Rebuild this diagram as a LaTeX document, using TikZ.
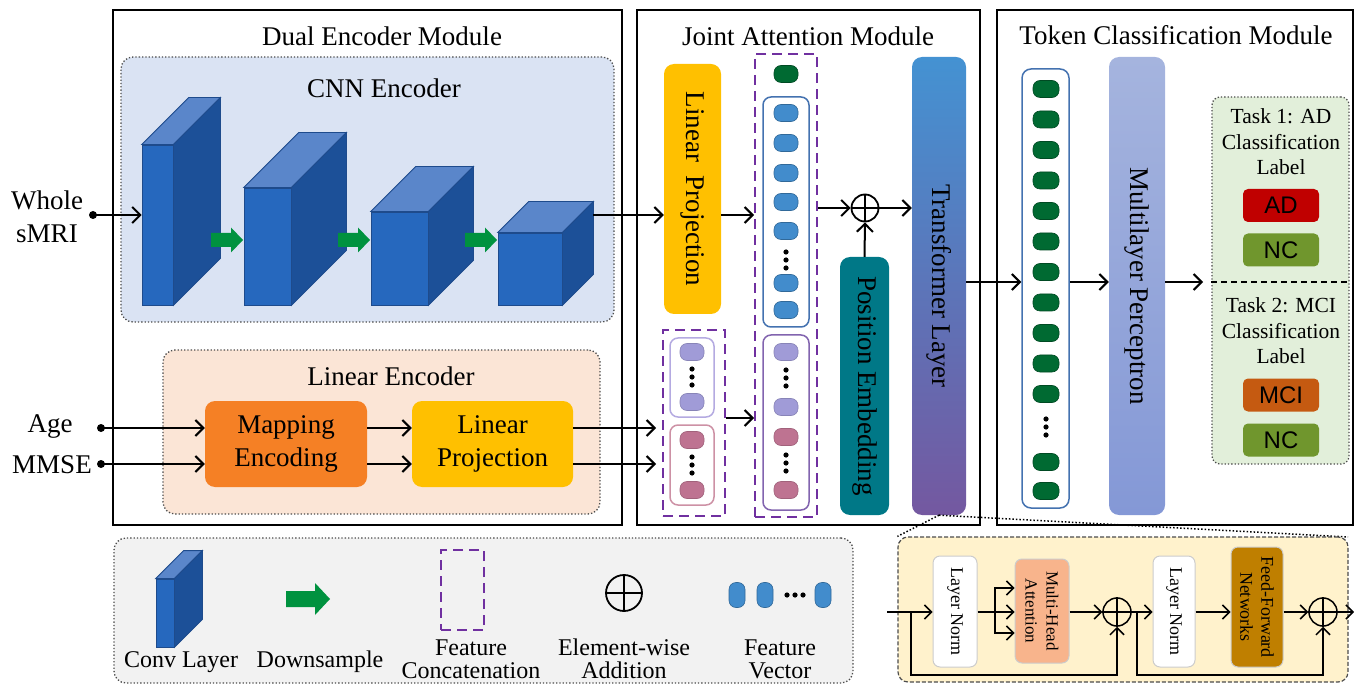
\documentclass[tikz,border=0pt]{standalone}
\usepackage{fontspec}
\setmainfont{Liberation Serif}
\newfontfamily\labelfont{Liberation Sans}
\usepackage{tikz}
\usetikzlibrary{arrows.meta,positioning,fit}

\definecolor{cubefront}{RGB}{38,104,190}
\definecolor{cubetop}{RGB}{90,134,202}
\definecolor{cubeside}{RGB}{28,80,152}
\definecolor{cubeedge}{RGB}{30,75,140}
\definecolor{dsgreen}{RGB}{0,146,63}
\definecolor{cnnbg}{RGB}{218,227,243}
\definecolor{linbg}{RGB}{251,229,214}
\definecolor{mapcol}{RGB}{245,128,37}
\definecolor{projcol}{RGB}{255,192,0}
\definecolor{catpurple}{RGB}{112,48,160}
\definecolor{tokblue}{RGB}{66,140,204}
\definecolor{tokgreen}{RGB}{0,106,50}
\definecolor{toklav}{RGB}{160,155,215}
\definecolor{tokpink}{RGB}{190,115,145}
\definecolor{grpblue}{RGB}{68,114,176}
\definecolor{grplav}{RGB}{180,170,225}
\definecolor{grppink}{RGB}{205,145,165}
\definecolor{grppurple}{RGB}{130,100,175}
\definecolor{poscol}{RGB}{0,120,135}
\definecolor{trtop}{RGB}{68,146,210}
\definecolor{trbot}{RGB}{116,88,160}
\definecolor{mlptop}{RGB}{165,180,222}
\definecolor{mlpbot}{RGB}{132,152,214}
\definecolor{taskbg}{RGB}{226,239,218}
\definecolor{adred}{RGB}{192,0,0}
\definecolor{ncgreen}{RGB}{112,150,45}
\definecolor{mcicol}{RGB}{197,90,17}
\definecolor{legbg}{RGB}{242,242,242}
\definecolor{detbg}{RGB}{255,242,204}
\definecolor{mhacol}{RGB}{248,180,140}
\definecolor{ffncol}{RGB}{191,127,0}

\begin{document}
\begin{tikzpicture}[x=1pt,y=-1pt,
    every node/.style={inner sep=0pt},
    big/.style={font=\fontsize{27}{33}\selectfont},
    legtext/.style={font=\fontsize{24}{23}\selectfont, align=center},
    tasktext/.style={font=\fontsize{21.5}{25.5}\selectfont, align=center},
    smalltext/.style={font=\fontsize{18}{21}\selectfont, align=center},
    modframe/.style={draw, line width=2.5pt},
    subbox/.style={draw=black!70, dotted, line width=1.3pt, rounded corners=12pt},
    catbox/.style={draw=catpurple, line width=2pt, dash pattern=on 10pt off 6pt},
    group/.style={draw, fill=white, line width=1.5pt, rounded corners=8pt},
    tok/.style={rounded corners=7pt, minimum width=24pt, minimum height=17pt, line width=0.6pt},
    block/.style={rounded corners=10pt},
    cube/.style={fill=cubefront, draw=cubeedge, line width=0.8pt},
    addnode/.style={draw, circle, line width=1.8pt},
    lab/.style={minimum width=76pt, minimum height=33pt, rounded corners=5pt, font=\labelfont\fontsize{24}{24}\selectfont},
    innerbox/.style={draw=black!20, line width=1pt, rounded corners=7pt},
    arr/.style={-{Straight Barb[length=8pt,width=16pt]}, line width=2pt},
    thinarr/.style={-{Straight Barb[length=7pt,width=14pt]}, line width=1.5pt},
]
\useasboundingbox (0,0) rectangle (1354,684);

% modules
\node[modframe, fit={(113,10) (622,525)}] (dual) {};
\node[modframe, fit={(637,10) (980,525)}] (joint) {};
\node[modframe, fit={(997,10) (1353,525)}] (tcm) {};
\node[big] (dualtitle) at (382,36) {Dual Encoder Module};
\node[big] (jointtitle) at (808,36) {Joint Attention Module};
\node[big] (tcmtitle) at (1176,35) {Token Classification Module};

% CNN encoder
\node[subbox, fill=cnnbg, fit={(121,57) (614,322)}] (cnn) {};
\node[big] (cnntitle) at (384,88) {CNN Encoder};
\foreach \n/\l/\t/\r/\d in {1/142/145/173/47, 2/244/188/291/55, 3/371/212/428/45, 4/498/233/562/31} {
  \node[cube, fit={(\l,\t) (\r,305)}] (cube\n) {};
  \filldraw[fill=cubetop, draw=cubeedge, line width=0.8pt] (cube\n.north west) -- ++(\d,-\d)
    -- ([xshift=\d pt, yshift=\d pt]cube\n.north east) -- (cube\n.north east) -- cycle;
  \filldraw[fill=cubeside, draw=cubeedge, line width=0.8pt] (cube\n.north east) -- ++(\d,-\d)
    -- ([xshift=\d pt, yshift=\d pt]cube\n.south east) -- (cube\n.south east) -- cycle;
}
\foreach \x in {211,338,465}
  \fill[dsgreen] (\x,233) -- ++(20,0) -- ++(0,-5.5) -- ++(12,12.5) -- ++(-12,12.5) -- ++(0,-5.5) -- ++(-20,0) -- cycle;

% linear encoder
\node[subbox, fill=linbg, fit={(163,350) (600,514)}] (linenc) {};
\node[big] (lintitle) at (391,376) {Linear Encoder};
\node[block, fill=mapcol, fit={(205,401) (367,487)}] (mapenc) {};
\node[big, align=center] (maptext) at (mapenc) {Mapping\\Encoding};
\node[block, fill=projcol, fit={(412,401) (573,487)}] (linproj2) {};
\node[big, align=center] (lp2text) at (linproj2) {Linear\\Projection};

% inputs
\node[big, align=center] (smritext) at (47,217) {Whole\\sMRI};
\node[big] (agetext) at (50,427) {Age};
\node[big] (mmsetext) at (52,465) {MMSE};
\coordinate (smri) at (93,215);
\coordinate (age) at (101,428);
\coordinate (mmse) at (101,464);
\coordinate (cnnout) at (593,215);
\coordinate (catlink) at (700,418);
\coordinate (midline) at (990,282);
\coordinate (taskin) at (1203,282);

% joint attention
\node[block, fill=projcol, fit={(664,64) (721,314)}] (linproj1) {};
\node[big, rotate=-90] (lp1text) at (linproj1) {Linear\ \ Projection};
\node[catbox, fit={(755,54) (817,517)}] (bigcat) {};
\node[catbox, fit={(663,330) (725,516)}] (smallcat) {};
\node[tok, fill=tokgreen, draw=tokgreen!70!black] (cls) at (786,74) {};
\node[group, draw=grpblue, fit={(763,97) (809,327)}] (imgtok) {};
\foreach \i/\y in {1/113,2/143,3/173,4/202,5/231,6/283,7/310}
  \node[tok, fill=tokblue, draw=tokblue!75!black] (img\i) at (786,\y) {};
\node[group, draw=grppurple, fit={(763,335) (809,510)}] (clintok) {};
\foreach \i/\y/\c in {1/352/toklav,2/407/toklav,3/437/tokpink,4/490/tokpink}
  \node[tok, fill=\c, draw=\c!85!black] (clin\i) at (786,\y) {};
\node[group, draw=grplav, fit={(670,338) (714,417)}] (agetok) {};
\node[group, draw=grppink, fit={(670,425) (714,505)}] (mmsetok) {};
\foreach \i/\y/\c in {1/352/toklav,2/402/toklav,3/440/tokpink,4/490/tokpink}
  \node[tok, fill=\c, draw=\c!85!black] (cat\i) at (692,\y) {};
\foreach \k in {-8,0,8} {
  \fill (786,260+\k) circle (2.6pt);
  \fill (786,378+\k) circle (2.6pt);
  \fill (786,463+\k) circle (2.6pt);
  \fill (692,377+\k) circle (2.6pt);
  \fill (692,465+\k) circle (2.6pt);
}
\node[addnode, minimum size=27pt] (add) at (865,208) {};
\draw[line width=1.8pt] (add.north) -- (add.south) (add.west) -- (add.east);
\node[block, fill=poscol, fit={(840,257) (889,515)}] (posemb) {};
\node[big, rotate=-90] (postext) at (posemb) {Position Embedding};
\node[block, top color=trtop, bottom color=trbot, fit={(912,57) (966,515)}] (trans) {};
\node[big, rotate=-90] (transtext) at (trans) {Transformer Layer};

% token classification
\node[group, draw=grpblue, rounded corners=9pt, fit={(1022,69) (1069,508)}] (tokvec) {};
\foreach \i/\y in {1/89,2/119.5,3/150,4/180.5,5/211,6/241.5,7/272,8/302.5,9/333,10/363.5,11/394,12/462,13/491}
  \node[tok, minimum width=26pt, fill=tokgreen, draw=tokgreen!70!black] (tk\i) at (1046,\y) {};
\foreach \k in {-8,0,8} \fill (1046,427+\k) circle (2.6pt);
\node[block, top color=mlptop, bottom color=mlpbot, fit={(1109,57) (1165,515)}] (mlp) {};
\node[big, rotate=-90] (mlptext) at (mlp) {Multilayer Perceptron};
\node[subbox, fill=taskbg, rounded corners=8pt, fit={(1212,97) (1349,464)}] (task) {};
\draw[line width=1.5pt, dash pattern=on 6pt off 4pt] (task.west |- midline) -- (task.east |- midline);
\node[tasktext] (task1) at (1281,142) {Task 1: AD\\Classification\\Label};
\node[tasktext] (task2) at (1281,331) {Task 2: MCI\\Classification\\Label};
\node[lab, fill=adred] (ad) at (1281,205.5) {AD};
\node[lab, fill=ncgreen] (nc1) at (1281,250) {NC};
\node[lab, fill=mcicol] (mci) at (1281,395) {MCI};
\node[lab, fill=ncgreen] (nc2) at (1281,440) {NC};

% paths
\fill (smri) circle (4pt);
\fill (age) circle (4pt);
\fill (mmse) circle (4pt);
\draw[arr] (smri) -- (smri -| cube1.west);
\draw[arr] (cnnout) -- (cnnout -| linproj1.west);
\draw[arr] (linproj1.east |- cnnout) -- (bigcat.west |- cnnout);
\draw[arr] (age) -- (age -| mapenc.west);
\draw[arr] (mmse) -- (mmse -| mapenc.west);
\draw[arr] (mapenc.east |- age) -- (linproj2.west |- age);
\draw[arr] (mapenc.east |- mmse) -- (linproj2.west |- mmse);
\draw[arr, shorten >=6pt] (linproj2.east |- age) -- (smallcat.west |- age);
\draw[arr, shorten >=6pt] (linproj2.east |- mmse) -- (smallcat.west |- mmse);
\draw[arr] (smallcat.east |- catlink) -- (bigcat.west |- catlink);
\draw[arr] (bigcat.east |- add) -- (add.west);
\draw[arr] (add.east) -- (add -| trans.west);
\draw[arr] (posemb.north) -- (add.south);
\draw[arr] (trans.east |- midline) -- (tokvec.west |- midline);
\draw[arr] (tokvec.east |- midline) -- (mlp.west |- midline);
\draw[arr] (mlp.east |- midline) -- (taskin);

% legend
\node[subbox, fill=legbg, fit={(114,538) (853,683)}] (legend) {};
\node[cube, fit={(156,579) (174,647)}] (convleg) {};
\filldraw[fill=cubetop, draw=cubeedge, line width=0.8pt] (convleg.north west) -- ++(28,-28)
  -- ([xshift=28pt, yshift=28pt]convleg.north east) -- (convleg.north east) -- cycle;
\filldraw[fill=cubeside, draw=cubeedge, line width=0.8pt] (convleg.north east) -- ++(28,-28)
  -- ([xshift=28pt, yshift=28pt]convleg.south east) -- (convleg.south east) -- cycle;
\node[legtext] (convtext) at (181,662) {Conv Layer};
\fill[dsgreen] (286,591) -- ++(29,0) -- ++(0,-8) -- ++(15,16) -- ++(-15,16) -- ++(0,-8) -- ++(-29,0) -- cycle;
\node[legtext] (dstext) at (320,662) {Downsample};
\node[catbox, fit={(441,550) (484,630)}] (catleg) {};
\node[legtext] (cattext) at (471,659) {Feature\\Concatenation};
\node[addnode, minimum size=36pt] (addleg) at (624,593) {};
\draw[line width=1.8pt] (addleg.north) -- (addleg.south) (addleg.west) -- (addleg.east);
\node[legtext] (addtext) at (624,659) {Element-wise\\Addition};
\foreach \i/\x in {1/737,2/765,3/823}
  \node[tok, minimum width=16pt, minimum height=25pt, fill=tokblue, draw=tokblue!75!black] (vec\i) at (\x,595) {};
\foreach \k in {-8,0,8} \fill (795+\k,595) circle (2.6pt);
\node[legtext] (vectext) at (780,659) {Feature\\Vector};

% transformer layer detail
\draw[dotted, line width=1.5pt] (trans.south) -- (1348,537);
\node[fit={(898,537) (1348,682)}, draw=black!70, fill=detbg, dash pattern=on 4pt off 2pt, line width=1.2pt, rounded corners=10pt] (detail) {};
\draw[dotted, line width=1.5pt] (trans.south) -- (detail.north west);
\node[innerbox, fill=white, fit={(933,556) (977,667)}] (ln1) {};
\node[smalltext, rotate=-90] (ln1text) at (ln1) {Layer Norm};
\node[innerbox, fill=mhacol, fit={(1015,559) (1069,663)}] (mha) {};
\node[font=\fontsize{17}{21}\selectfont, align=center, rotate=-90] (mhatext) at (mha) {Multi-Head\\Attention};
\node[addnode, line width=1.5pt, minimum size=28pt] (add1) at (1117,612) {};
\draw[line width=1.5pt] (add1.north) -- (add1.south) (add1.west) -- (add1.east);
\node[innerbox, fill=white, fit={(1153,556) (1195,667)}] (ln2) {};
\node[smalltext, rotate=-90] (ln2text) at (ln2) {Layer Norm};
\node[innerbox, fill=ffncol, fit={(1231,547) (1283,667)}] (ffn) {};
\node[smalltext, rotate=-90] (ffntext) at (ffn) {Feed-Forward\\Networks};
\node[addnode, line width=1.5pt, minimum size=28pt] (add2) at (1323,612) {};
\draw[line width=1.5pt] (add2.north) -- (add2.south) (add2.west) -- (add2.east);
\coordinate (din) at (887,612);
\coordinate (res1) at (911,612);
\coordinate (branch) at (995,612);
\coordinate (res2) at (1137,612);
\coordinate (dout) at (1354,612);
\draw[thinarr] (din) -- (din -| ln1.west);
\draw[thinarr] (res1) -- ++(0,63) -| (add1.south);
\draw[line width=1.5pt] (ln1.east |- branch) -- (branch);
\draw[thinarr] (branch) -- (branch -| mha.west);
\draw[thinarr] (branch) |- ([yshift=24pt]branch -| mha.west);
\draw[thinarr] (branch) |- ([yshift=-21pt]branch -| mha.west);
\draw[thinarr] (mha.east |- add1) -- (add1.west);
\draw[thinarr] (add1.east) -- (add1 -| ln2.west);
\draw[thinarr] (res2) -- ++(0,63) -| (add2.south);
\draw[thinarr] (ln2.east |- add2) -- (add2 -| ffn.west);
\draw[thinarr] (ffn.east |- add2) -- (add2.west);
\draw[thinarr] (add2.east) -- (dout);
\end{tikzpicture}
\end{document}
